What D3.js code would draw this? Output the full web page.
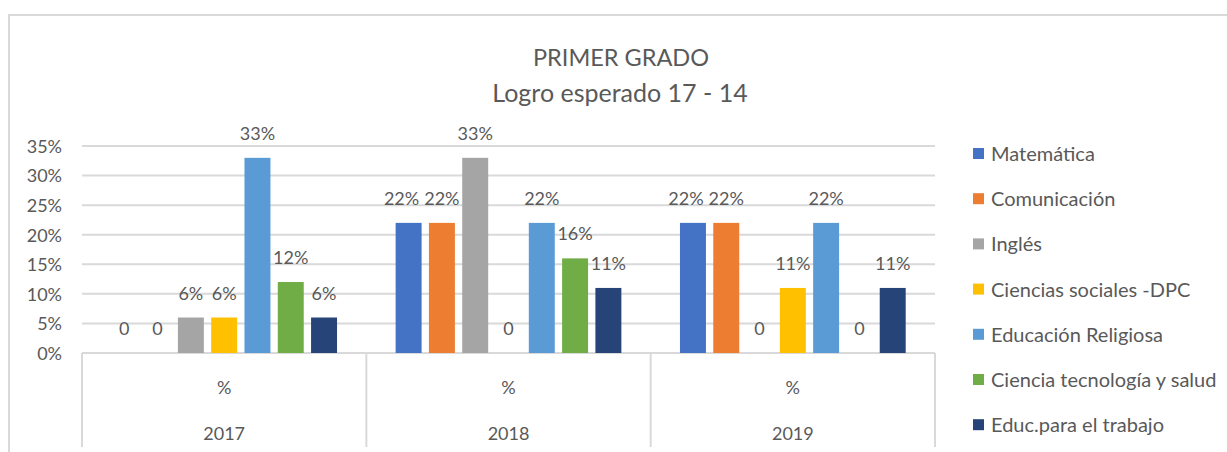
<!DOCTYPE html>
<html>
<head>
<meta charset="utf-8">
<script src="https://cdn.jsdelivr.net/npm/d3@7"></script>
<style>
  body { margin: 0; background: #fff; }
  text { font-family: Lato, "Open Sans", sans-serif; fill: #595959; }
</style>
</head>
<body>
<svg width="1227" height="452"></svg>
<script>
var years = ["2017", "2018", "2019"];
var subLabel = "%";
var series = ["Matemática", "Comunicación", "Inglés", "Ciencias sociales -DPC",
              "Educación Religiosa", "Ciencia tecnología y salud", "Educ.para el trabajo"];
var colors = ["#4472C4", "#ED7D31", "#A5A5A5", "#FFC000", "#5B9BD5", "#70AD47", "#264478"];
// one array per year, in series order
var v2017 = [0, 0, 6, 6, 33, 12, 6];
var v2018 = [22, 22, 33, 0, 22, 16, 11];
var v2019 = [22, 22, 0, 11, 22, 0, 11];
var yTicks = [0, 5, 10, 15, 20, 25, 30, 35];

var values = [v2017, v2018, v2019];

var svg = d3.select("svg"),
    margin = {top: 146, left: 82, right: 292, bottom: 99},
    width = 1227 - margin.left - margin.right,
    height = 452 - margin.top - margin.bottom;

// chart area border
svg.append("rect")
    .attr("x", 9).attr("y", 15)
    .attr("width", 1240).attr("height", 460)
    .attr("fill", "none").attr("stroke", "#d9d9d9").attr("stroke-width", 2);

svg.append("text").attr("x", 621).attr("y", 66)
    .attr("text-anchor", "middle").style("font-size", "23.5px").text("PRIMER GRADO");
svg.append("text").attr("x", 620).attr("y", 102)
    .attr("text-anchor", "middle").style("font-size", "25px").text("Logro esperado 17 - 14");

var g = svg.append("g").attr("transform", "translate(" + margin.left + "," + margin.top + ")");

var x0 = d3.scaleBand().domain(years).range([0, width]);
var x1 = d3.scaleBand().domain(series).range([0, x0.bandwidth()])
    .paddingInner(0.22).paddingOuter(0.88);
var y = d3.scaleLinear().domain([0, 35]).range([height, 0]);

// gridlines
g.append("g").selectAll("line")
  .data(yTicks)
  .enter().append("line")
    .attr("x1", 0).attr("x2", width)
    .attr("y1", function(d) { return y(d); })
    .attr("y2", function(d) { return y(d); })
    .attr("stroke", "#d9d9d9").attr("stroke-width", 2);

var yAxis = g.append("g")
    .call(d3.axisLeft(y).tickValues(yTicks).tickSize(0).tickPadding(20)
      .tickFormat(function(d) { return d + "%"; }));
yAxis.select(".domain").remove();
yAxis.selectAll("text").style("font-size", "18px").attr("fill", "#595959").attr("dy", "0.35em");

// multi-level category boxes
var boxBottom = 447 - margin.top;
var edges = years.map(function(d) { return x0(d); }).concat([width]);
g.append("g").selectAll("line")
  .data(edges)
  .enter().append("line")
    .attr("x1", function(d) { return d; }).attr("x2", function(d) { return d; })
    .attr("y1", height).attr("y2", boxBottom)
    .attr("stroke", "#d9d9d9").attr("stroke-width", 2);

var cat = g.append("g").selectAll("g")
  .data(years)
  .enter().append("g")
    .attr("transform", function(d) { return "translate(" + (x0(d) + x0.bandwidth() / 2) + ",0)"; });
cat.append("text").attr("y", height + 41).attr("text-anchor", "middle")
    .style("font-size", "18px").text(subLabel);
cat.append("text").attr("y", height + 87).attr("text-anchor", "middle")
    .style("font-size", "18px").text(function(d) { return d; });

// bars
var groups = g.append("g").selectAll("g")
  .data(years)
  .enter().append("g")
    .attr("transform", function(d) { return "translate(" + x0(d) + ",0)"; });

var cells = groups.selectAll("g")
  .data(function(d, i) {
    return series.map(function(s, j) { return {s: s, v: values[i][j], c: colors[j]}; });
  })
  .enter().append("g");

cells.filter(function(d) { return d.v > 0; }).append("rect")
    .attr("x", function(d) { return x1(d.s); })
    .attr("width", x1.bandwidth())
    .attr("y", function(d) { return y(d.v); })
    .attr("height", function(d) { return height - y(d.v); })
    .attr("fill", function(d) { return d.c; });

cells.append("text")
    .attr("class", "lbl")
    .attr("x", function(d) { return x1(d.s) + x1.bandwidth() / 2; })
    .attr("y", function(d) { return y(d.v) - 18; })
    .attr("text-anchor", "middle")
    .style("font-size", "18px")
    .text(function(d) { return d.v === 0 ? "0" : d.v + "%"; });

// push a label left when it runs into its right neighbour at the same height
groups.each(function() {
  var labels = d3.select(this).selectAll("text.lbl").nodes();
  for (var i = labels.length - 2; i >= 0; i--) {
    var a = labels[i], b = labels[i + 1];
    if (a.getAttribute("y") !== b.getAttribute("y")) continue;
    var ax = +a.getAttribute("x"), bx = +b.getAttribute("x");
    var gap = (bx - b.getComputedTextLength() / 2) - (ax + a.getComputedTextLength() / 2);
    if (gap < 5) a.setAttribute("x", ax - (5 - gap));
  }
});

// legend
var legend = svg.append("g").selectAll("g")
  .data(series)
  .enter().append("g")
    .attr("transform", function(d, i) { return "translate(973," + (154 + i * 45.2) + ")"; });
legend.append("rect").attr("x", 0).attr("y", -6).attr("width", 11).attr("height", 11)
    .attr("fill", function(d, i) { return colors[i]; });
legend.append("text").attr("x", 18).attr("dy", "0.35em")
    .style("font-size", "20px").text(function(d) { return d; });
</script>
</body>
</html>
